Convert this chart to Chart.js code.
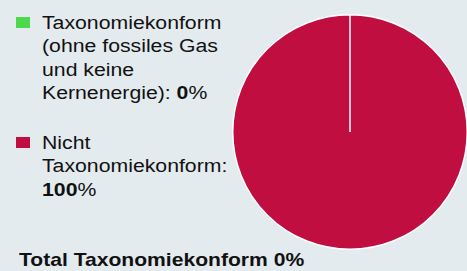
<!DOCTYPE html>
<html>
<head>
<meta charset="utf-8">
<script src="https://cdn.jsdelivr.net/npm/chart.js@4"></script>
<style>
  html, body { margin: 0; padding: 0; }
  body {
    width: 467px; height: 271px; background: #e4ebef; position: relative; overflow: hidden;
    font-family: "Liberation Sans", Arial, sans-serif; color: #111;
  }
  #legend { position: absolute; left: 16px; top: 12px; }
  .item { position: relative; padding-left: 26px; font-size: 18px; line-height: 23.3px; margin-bottom: 27px; }
  .txt { display: inline-block; transform: scaleX(1.18); transform-origin: left top; white-space: nowrap; }
  .sw { position: absolute; left: 0; top: 5px; width: 14px; height: 11px; }
  #total { position: absolute; left: 19px; top: 249px; font-size: 19px; font-weight: bold;
           transform: scaleX(1.11); transform-origin: left top; white-space: nowrap; }
  #wrap { position: absolute; left: 232px; top: 14px; width: 236px; height: 236px; }
</style>
</head>
<body>
<div id="legend"></div>
<div id="total"></div>
<div id="wrap"><canvas id="pie"></canvas></div>
<script>
const categories = [
  ["Taxonomiekonform", "(ohne fossiles Gas", "und keine", "Kernenergie):"],
  ["Nicht", "Taxonomiekonform:"]
];
const values = [0, 100];
const colors = ["#4cd94c", "#c10e41"];
const totalLabel = "Total Taxonomiekonform";
const totalValue = 0;

const legend = document.getElementById("legend");
categories.forEach((lines, i) => {
  const div = document.createElement("div");
  div.className = "item";
  const last = lines.length - 1;
  let html = lines.map((l, j) => j === last ? l : l + "<br>").join("");
  // value goes on the same line if it fits, else on its own line
  html += (lines[last].length > 14 ? "<br>" : " ") + "<b>" + values[i] + "</b>%";
  div.innerHTML = '<span class="sw" style="background:' + colors[i] + '"></span>' +
    '<span class="txt">' + html + '</span>';
  legend.appendChild(div);
});
document.getElementById("total").textContent = totalLabel + " " + totalValue + "%";

new Chart(document.getElementById("pie"), {
  type: "pie",
  data: {
    labels: categories.map(l => l.join(" ")),
    datasets: [{
      data: values,
      backgroundColor: colors,
      borderColor: "#ffffff",
      borderWidth: 1.5
    }]
  },
  options: {
    responsive: true,
    maintainAspectRatio: false,
    animation: false,
    layout: { padding: 0 },
    plugins: { legend: { display: false }, tooltip: { enabled: false } }
  }
});
</script>
</body>
</html>
